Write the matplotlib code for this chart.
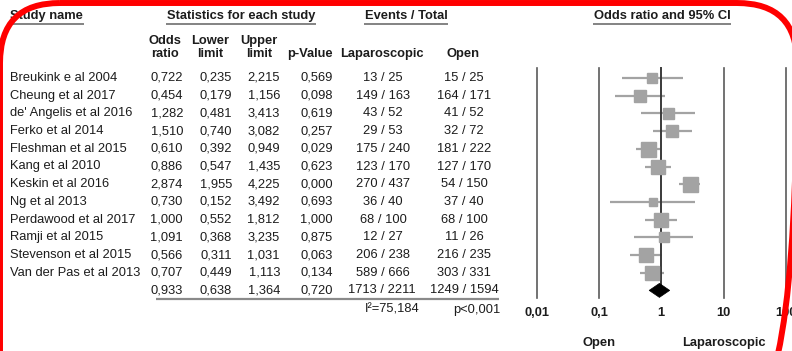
import matplotlib
matplotlib.use("Agg")
import matplotlib.pyplot as plt
from matplotlib.patches import FancyBboxPatch, Polygon
import numpy as np

plt.rcParams['font.family'] = ['Liberation Sans', 'DejaVu Sans']

studies = ["Breukink e al 2004", "Cheung et al 2017", "de' Angelis et al 2016",
           "Ferko et al 2014", "Fleshman et al 2015", "Kang et al 2010",
           "Keskin et al 2016", "Ng et al 2013", "Perdawood et al 2017",
           "Ramji et al 2015", "Stevenson et al 2015", "Van der Pas et al 2013"]
odds = [0.722, 0.454, 1.282, 1.510, 0.610, 0.886, 2.874, 0.730, 1.000, 1.091, 0.566, 0.707]
lower = [0.235, 0.179, 0.481, 0.740, 0.392, 0.547, 1.955, 0.152, 0.552, 0.368, 0.311, 0.449]
upper = [2.215, 1.156, 3.413, 3.082, 0.949, 1.435, 4.225, 3.492, 1.812, 3.235, 1.031, 1.113]
pvals = [0.569, 0.098, 0.619, 0.257, 0.029, 0.623, 0.000, 0.693, 1.000, 0.875, 0.063, 0.134]
lap_ev = [13, 149, 43, 29, 175, 123, 270, 36, 68, 12, 206, 589]
lap_n = [25, 163, 52, 53, 240, 170, 437, 40, 100, 27, 238, 666]
open_ev = [15, 164, 41, 32, 181, 127, 54, 37, 68, 11, 216, 303]
open_n = [25, 171, 52, 72, 222, 170, 150, 40, 100, 26, 235, 331]
rel_weight = [10, 12, 11, 12.5, 15, 14, 15, 8, 14, 10, 14, 14.5]

pooled = (0.933, 0.638, 1.364, 0.720)
pooled_lap = (1713, 2211)
pooled_open = (1249, 1594)
i2 = 75.184
het_p = "p<0,001"
ticks = [0.01, 0.1, 1, 10, 100]
tick_labels = ["0,01", "0,1", "1", "10", "100"]

W, H = 792, 351
FS = 9.3
TXT = "#1c1c1c"


def comma(v, nd=3):
    return f"{v:.{nd}f}".replace(".", ",")


def row_y(i):
    return 78 + 17.7 * i


fig = plt.figure(figsize=(W / 100, H / 100), dpi=100)
bg = fig.add_axes([0, 0, 1, 1])
bg.set_xlim(0, W)
bg.set_ylim(H, 0)
bg.axis('off')

# forest panel on a log axis, 62.3 px per decade, 1 at x=661.3
x0_px = 500
fa = fig.add_axes([x0_px / W, 0, (W - x0_px) / W, 1])
fa.set_xscale('log')
fa.set_xlim(10 ** ((x0_px - 661.3) / 62.3), 10 ** ((W - 661.3) / 62.3))
fa.set_ylim(H, 0)
fa.axis('off')
fa.patch.set_alpha(0)

# headers
hdr = []
hdr.append(bg.text(10, 16, "Study name", fontsize=FS, fontweight='bold', color=TXT, ha='left', va='center'))
hdr.append(bg.text(241, 16, "Statistics for each study", fontsize=FS, fontweight='bold', color=TXT, ha='center', va='center'))
hdr.append(bg.text(406, 16, "Events / Total", fontsize=FS, fontweight='bold', color=TXT, ha='center', va='center'))
hdr.append(bg.text(662, 16, "Odds ratio and 95% CI", fontsize=FS, fontweight='bold', color=TXT, ha='center', va='center'))

for x, top, bot in [(165, "Odds", "ratio"), (210, "Lower", "limit"), (259, "Upper", "limit")]:
    bg.text(x, 41, top, fontsize=FS, fontweight='bold', color=TXT, ha='center', va='center')
    bg.text(x, 54, bot, fontsize=FS, fontweight='bold', color=TXT, ha='center', va='center')
bg.text(310, 54, "p-Value", fontsize=FS, fontweight='bold', color=TXT, ha='center', va='center')
bg.text(382, 54, "Laparoscopic", fontsize=FS, fontweight='bold', color=TXT, ha='center', va='center')
bg.text(463, 54, "Open", fontsize=FS, fontweight='bold', color=TXT, ha='center', va='center')

# table rows
col_right = [183, 232, 280, 333]
for i, name in enumerate(studies):
    y = row_y(i)
    bg.text(10, y, name, fontsize=FS, color=TXT, ha='left', va='center')
    for xr, v in zip(col_right, (odds[i], lower[i], upper[i], pvals[i])):
        bg.text(xr, y, comma(v), fontsize=FS, color=TXT, ha='right', va='center')
    bg.text(383, y, f"{lap_ev[i]} / {lap_n[i]}", fontsize=FS, color=TXT, ha='center', va='center')
    bg.text(464, y, f"{open_ev[i]} / {open_n[i]}", fontsize=FS, color=TXT, ha='center', va='center')

ys = row_y(len(studies))
for xr, v in zip(col_right, pooled):
    bg.text(xr, ys, comma(v), fontsize=FS, color=TXT, ha='right', va='center')
bg.text(382, ys, f"{pooled_lap[0]} / {pooled_lap[1]}", fontsize=FS, color=TXT, ha='center', va='center')
bg.text(464, ys, f"{pooled_open[0]} / {pooled_open[1]}", fontsize=FS, color=TXT, ha='center', va='center')
bg.plot([156, 499], [299, 299], color="#8a8a8a", lw=1.6, solid_capstyle='butt')

bg.text(420, 310, f"I²={comma(i2)}", fontsize=FS, color=TXT, ha='right', va='center')
bg.text(500, 310, het_p, fontsize=FS, color=TXT, ha='right', va='center')

# forest plot
top_y, bot_y = 68, 298
for t in ticks:
    if t == 1:
        fa.plot([t, t], [top_y, ys], color="#3a3a3a", lw=1.4, zorder=3)
    else:
        fa.plot([t, t], [top_y, bot_y], color="#5a5a5a", lw=1.2, zorder=1)
for t, lab in zip(ticks, tick_labels):
    fa.text(t, 313, lab, fontsize=FS, fontweight='bold', color=TXT, ha='center', va='center')
fa.text(0.1, 343, "Open", fontsize=FS, fontweight='bold', color=TXT, ha='center', va='center')
fa.text(10, 343, "Laparoscopic", fontsize=FS, fontweight='bold', color=TXT, ha='center', va='center')

for i in range(len(studies)):
    y = row_y(i)
    fa.plot([lower[i], upper[i]], [y, y], color="#a3a3a3", lw=1.6, zorder=2, solid_capstyle='butt')
    fa.plot([odds[i]], [y], marker='s', ms=rel_weight[i] * 0.72, color="#a3a3a3",
            mec="#a3a3a3", zorder=4, linestyle='none')

dh = 7
diamond = Polygon([[pooled[1], ys], [pooled[0], ys - dh], [pooled[2], ys], [pooled[0], ys + dh]],
                  closed=True, facecolor='black', edgecolor='black', lw=0.5, zorder=5)
fa.add_patch(diamond)

# underline the section headers
fig.canvas.draw()
inv = bg.transData.inverted()
for t in hdr:
    bb = t.get_window_extent()
    (xa, _), (xb, _) = inv.transform([[bb.x0, bb.y0], [bb.x1, bb.y0]])
    bg.plot([xa - 1, xb + 1], [23.5, 23.5], color="#7a7a7a", lw=1.3, solid_capstyle='butt')

# red rounded frame
frame = FancyBboxPatch((0, 3), 797, 420, boxstyle="round,pad=0,rounding_size=60",
                       facecolor='none', edgecolor='#ff0000', lw=4.3,
                       transform=bg.transData, zorder=10, clip_on=False)
fig.add_artist(frame)

fig.savefig("out.png", dpi=100)
